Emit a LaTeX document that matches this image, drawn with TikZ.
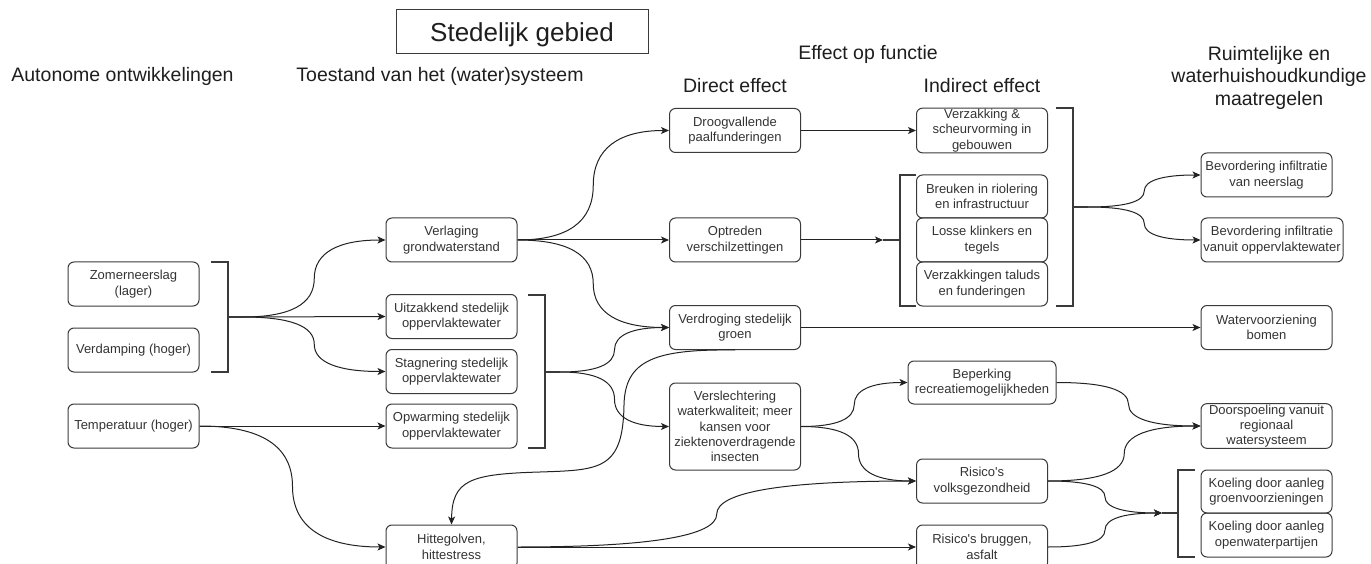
\documentclass[tikz,border=0pt]{standalone}
\usepackage{fontspec}
\setmainfont{Liberation Sans}[Ligatures=TeXOff]
\usetikzlibrary{arrows.meta,calc}
\definecolor{bord}{HTML}{3A3A3A}
\definecolor{txt}{HTML}{333333}
\definecolor{ln}{HTML}{222222}
\definecolor{hdrc}{HTML}{1E1E1E}
\begin{document}
\begin{tikzpicture}[x=1pt,y=-1pt,
  box/.style={draw=bord, line width=1pt, rounded corners=6pt, minimum width=131pt, minimum height=44pt, align=center, inner sep=1pt, text=txt, font=\fontsize{13}{15.3}\selectfont},
  hdr/.style={text=hdrc, font=\fontsize{19.5}{22.5}\selectfont, inner sep=0pt, align=center},
  brk/.style={draw=bord, line width=2.5pt, line join=miter},
  conn/.style={draw=ln, line width=1pt, -{Stealth[length=8pt,width=7pt,inset=2pt]}},
  sc/.style={to path={let \p1=(\tikztostart), \p2=(\tikztotarget) in
     .. controls ({(2*\x1+\x2)/3},\y1) and ({(\x1+\x2)/2},{(5*\y1+\y2)/6}) .. ({(\x1+\x2)/2},{(\y1+\y2)/2})
     .. controls ({(\x1+\x2)/2},{(\y1+5*\y2)/6}) and ({(\x1+2*\x2)/3},\y2) .. (\tikztotarget) \tikztonodes}}
]
\useasboundingbox (0,0) rectangle (1371,564);

% headers
\node[draw=bord, line width=1pt, minimum width=252pt, minimum height=44pt, inner sep=0pt, text height=19pt, text depth=0pt, text=hdrc, font=\fontsize{26}{30}\selectfont] (title) at (522,32) {Stedelijk gebied};
\node[hdr, anchor=base] (h1) at (122.5,82) {Autonome ontwikkelingen};
\node[hdr, anchor=base] (h2) at (440,82) {Toestand van het (water)systeem};
\node[hdr, anchor=base] (h3) at (868,60) {Effect op functie};
\node[hdr, anchor=base] (h4) at (735,93) {Direct effect};
\node[hdr, anchor=base] (h5) at (982,93) {Indirect effect};
\node[hdr] (h6) at (1269,77.5) {Ruimtelijke en\\waterhuishoudkundige\\maatregelen};

% column 1
\node[box] (zom) at (133.5,284) {Zomerneerslag\\(lager)};
\node[box] (verd) at (133.5,350) {Verdamping (hoger)};
\node[box] (temp) at (133.5,426) {Temperatuur (hoger)};

% column 2
\node[box] (verl) at (451.5,240) {Verlaging\\grondwaterstand};
\node[box] (uitz) at (451.5,316.5) {Uitzakkend stedelijk\\oppervlaktewater};
\node[box] (stag) at (451.5,371.5) {Stagnering stedelijk\\oppervlaktewater};
\node[box] (opw) at (451.5,426) {Opwarming stedelijk\\oppervlaktewater};
\node[box] (hitte) at (451.5,547) {Hittegolven,\\hittestress};

% column 3
\node[box] (droog) at (735,130.5) {Droogvallende\\paalfunderingen};
\node[box] (optr) at (735,240) {Optreden\\verschilzettingen};
\node[box] (verdr) at (735,327.5) {Verdroging stedelijk\\groen};
\node[box, minimum height=87pt] (versl) at (735,426.5) {Verslechtering\\waterkwaliteit; meer\\kansen voor\\ziektenoverdragende\\insecten};

% column 4
\node[box] (verz) at (982,130.5) {Verzakking \&\\scheurvorming in\\gebouwen};
\node[box, minimum height=43pt] (breuk) at (982,196.5) {Breuken in riolering\\en infrastructuur};
\node[box] (losse) at (982,240) {Losse klinkers en\\tegels};
\node[box] (talud) at (982,284) {Verzakkingen taluds\\en funderingen};
\node[box, minimum width=148pt, minimum height=43pt] (beperk) at (982,382.5) {Beperking\\recreatiemogelijkheden};
\node[box] (risv) at (982,481) {Risico's\\volksgezondheid};
\node[box] (risb) at (982,547) {Risico's bruggen,\\asfalt};

% column 5
\node[box] (bevn) at (1266.5,175) {Bevordering infiltratie\\van neerslag};
\node[box, minimum width=142pt] (bevo) at (1272,240) {Bevordering infiltratie\\vanuit oppervlaktewater};
\node[box] (water) at (1266.5,327.5) {Watervoorziening\\bomen};
\node[box] (door) at (1266.5,426) {Doorspoeling vanuit\\regionaal\\watersysteem};
\node[box, minimum height=43pt] (koelg) at (1266.5,491.5) {Koeling door aanleg\\groenvoorzieningen};
\node[box] (koelo) at (1266.5,535) {Koeling door aanleg\\openwaterpartijen};

% brackets
\draw[brk] (211,262) -- (228,262) -- (228,372) -- (211,372);
\draw[brk] (228,317) -- (243,317) coordinate (b1);
\draw[brk] (528,295) -- (545,295) -- (545,448) -- (528,448);
\draw[brk] (545,372) -- (560,372) coordinate (b2);
\draw[brk] (916,175) -- (900,175) -- (900,306) -- (916,306);
\draw[brk] (900,240) -- (883,240) coordinate (b3);
\draw[brk] (1056,108) -- (1073,108) -- (1073,306) -- (1056,306);
\draw[brk] (1073,207) -- (1088,207) coordinate (b4);
\draw[brk] (1195,470) -- (1178,470) -- (1178,557) -- (1195,557);
\draw[brk] (1178,513) -- (1162,513) coordinate (b5);

% connectors
\draw[conn] (b1) to[sc] (verl.west);
\draw[conn] (b1) -- (uitz.west);
\draw[conn] (b1) to[sc] (stag.west);
\draw[conn] (temp.east) -- (opw.west);
\draw[conn] (temp.east) to[sc] (hitte.west);
\draw[conn] (verl.east) to[sc] (droog.west);
\draw[conn] (verl.east) -- (optr.west);
\draw[conn] (verl.east) to[sc] (verdr.west);
\draw[conn] (b2) to[sc] (verdr.west);
\draw[conn] (b2) to[sc] (versl.west);
\draw[conn] (verdr.south) .. controls (655,349) and (625,360) .. (624,405) .. controls (623,470) and (600,470) .. (540,472) .. controls (470,474) and (452,480) .. (hitte.north);
\draw[conn] (verdr.east) -- (water.west);
\draw[conn] (droog.east) -- (verz.west);
\draw[conn] (optr.east) -- (b3);
\draw[conn] (versl.east) to[sc] (beperk.west);
\draw[conn] (versl.east) to[sc] (risv.west);
\draw[conn] (hitte.east) to[sc] (risv.west);
\draw[conn] (hitte.east) -- (risb.west);
\draw[conn] (b4) to[sc] (bevn.west);
\draw[conn] (b4) to[sc] (bevo.west);
\draw[conn] (beperk.east) to[sc] (door.west);
\draw[conn] (risv.east) to[sc] (door.west);
\draw[conn] (risv.east) to[sc] (b5);
\draw[conn] (risb.east) to[sc] (b5);
\end{tikzpicture}
\end{document}
